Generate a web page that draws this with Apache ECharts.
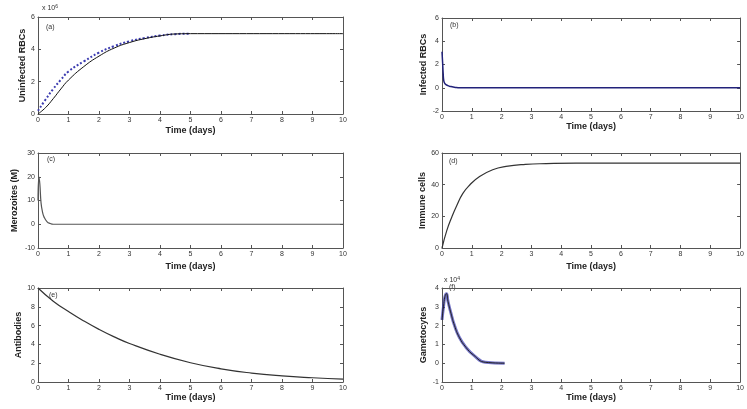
<!DOCTYPE html>
<html><head><meta charset="utf-8">
<script src="https://cdn.jsdelivr.net/npm/echarts@6/dist/echarts.min.js"></script>
<style>html,body{margin:0;padding:0;background:#fff}#c{width:747px;height:409px}</style>
</head><body><div id="c"></div>
<script>
// ---- data ----
const xTickLabels = ['0','1','2','3','4','5','6','7','8','9','10'];
// (a) Uninfected RBCs (x10^6)
const tUninfBlack = [0, 0.25, 0.5, 0.75, 1, 1.5, 2, 2.5, 3, 3.5, 4, 4.5, 5, 10];
const uninfBlack  = [0, 0.4, 0.95, 1.55, 2.1, 2.93, 3.58, 4.08, 4.42, 4.66, 4.83, 4.95, 4.97, 4.97];
const tUninfBlue  = [0, 0.25, 0.5, 0.75, 1, 1.5, 2, 2.5, 3, 3.5, 4, 4.5, 5];
const uninfBlue   = [0.2, 0.9, 1.55, 2.12, 2.63, 3.25, 3.8, 4.2, 4.5, 4.7, 4.85, 4.94, 4.97];
// (b) Infected RBCs
const tInf = [0, 0.02, 0.04, 0.06, 0.1, 0.2, 0.3, 0.45, 0.6, 10];
const infected = [3.1, 2.2, 1.2, 0.6, 0.35, 0.18, 0.1, 0.03, 0, 0];
// (c) Merozoites
const tMero = [0, 0.03, 0.06, 0.1, 0.15, 0.2, 0.3, 0.4, 0.5, 10];
const merozoites = [10, 20, 17, 9, 5, 3, 1, 0.3, 0, 0];
// (d) Immune cells
const tImm = [0, 0.16, 0.33, 0.5, 0.7, 0.93, 1.25, 1.7, 2.15, 2.8, 3.5, 4.5, 10];
const immune = [0, 11, 19.6, 27, 34.5, 39.8, 45, 49.4, 51.5, 52.8, 53.3, 53.6, 53.6];
// (e) Antibodies
const tAb = [0, 0.5, 1, 1.5, 2, 2.5, 3, 4, 5, 6, 7, 8, 9, 10];
const antibodies = [10, 8.6, 7.5, 6.5, 5.6, 4.8, 4.1, 2.95, 2.05, 1.4, 0.95, 0.65, 0.45, 0.3];
// (f) Gametocytes (x10^4)
const tGam = [0, 0.05, 0.1, 0.15, 0.2, 0.3, 0.42, 0.58, 0.8, 1.06, 1.45, 2.1];
const gametocytes = [2.3, 3.0, 3.55, 3.7, 3.3, 2.66, 2.0, 1.38, 0.85, 0.43, 0.05, 0];

const panelLabels = ['(a)','(b)','(c)','(d)','(e)','(f)'];
const yNames = ['Uninfected RBCs','Infected RBCs','Merozoites (M)','Immune cells','Antibodies','Gametocytes'];
const yMins = [0, -2, -10, 0, 0, -1];
const yMaxs = [6, 6, 30, 60, 10, 4];
const yIntervals = [2, 2, 10, 20, 2, 1];
const xName = 'Time (days)';

function pairs(t, v){ return t.map((x,i)=>[x, v[i]]); }

// ---- layout ----
const grids = [
  {left:38, right:404, top:17, bottom:295},
  {left:442, right:2, top:18, bottom:298},
  {left:38, right:404, top:153, bottom:161},
  {left:442, right:2, top:153, bottom:161},
  {left:38, right:404, top:288, bottom:27},
  {left:442, right:2, top:288, bottom:27}
];
const xGaps = [12, 8, 14, 14, 11, 10];
const yGaps = [11, 14, 19, 14, 15, 14];
const font = 'Liberation Sans, Arial, sans-serif';
const lineCol = '#555';

const xAxes = [], yAxes = [];
grids.forEach((g, i) => {
  xAxes.push({
    gridIndex: i, type: 'value', min: 0, max: 10, interval: 1, position: 'bottom',
    name: xName, nameLocation: 'middle', nameGap: xGaps[i],
    nameTextStyle: {fontSize: 9, fontWeight: 'bold', color: '#222', fontFamily: font},
    axisLine: {show: true, onZero: false, lineStyle: {color: lineCol}},
    axisTick: {inside: true, length: 3, lineStyle: {color: lineCol}},
    axisLabel: {fontSize: 7, color: '#333', margin: 3, fontFamily: font,
      formatter: v => xTickLabels[Math.round(v)] || ''},
    splitLine: {show: false}
  });
  xAxes.push({
    gridIndex: i, type: 'value', min: 0, max: 10, interval: 1, position: 'top',
    axisLine: {show: true, onZero: false, lineStyle: {color: lineCol}},
    axisTick: {inside: true, length: 3, lineStyle: {color: lineCol}},
    axisLabel: {show: false}, splitLine: {show: false}
  });
  yAxes.push({
    gridIndex: i, type: 'value', min: yMins[i], max: yMaxs[i], interval: yIntervals[i], position: 'left',
    name: yNames[i], nameLocation: 'middle', nameGap: yGaps[i], nameRotate: 90,
    nameTextStyle: {fontSize: 9, fontWeight: 'bold', color: '#222', fontFamily: font},
    axisLine: {show: true, onZero: false, lineStyle: {color: lineCol}},
    axisTick: {inside: true, length: 3, lineStyle: {color: lineCol}},
    axisLabel: {fontSize: 7, color: '#333', margin: 3, fontFamily: font},
    splitLine: {show: false}
  });
  yAxes.push({
    gridIndex: i, type: 'value', min: yMins[i], max: yMaxs[i], interval: yIntervals[i], position: 'right',
    axisLine: {show: true, onZero: false, lineStyle: {color: lineCol}},
    axisTick: {inside: true, length: 3, lineStyle: {color: lineCol}},
    axisLabel: {show: false}, splitLine: {show: false}
  });
});

function line(i, data, color, extra){
  return Object.assign({
    type: 'line', xAxisIndex: 2*i, yAxisIndex: 2*i, data: data,
    showSymbol: false, smooth: 0.5, silent: true, animation: false,
    lineStyle: {color: color, width: 1}
  }, extra || {});
}
const blue = '#3b3bb0';
const series = [
  line(0, pairs(tUninfBlue, uninfBlue), blue, {lineStyle: {color: blue, width: 2, type: 'dotted'}}),
  line(0, pairs(tUninfBlack, uninfBlack), '#111'),
  line(1, pairs(tInf, infected), '#22227a', {lineStyle: {color: '#22227a', width: 1.5}}),
  line(2, pairs(tMero, merozoites), '#444', {lineStyle: {color: '#555', width: 1.2}}),
  line(3, pairs(tImm, immune), '#222', {lineStyle: {color: '#333', width: 1.2}}),
  line(4, pairs(tAb, antibodies), '#222', {lineStyle: {color: '#333', width: 1.2}}),
  line(5, pairs(tGam, gametocytes), blue, {lineStyle: {color: blue, width: 3, opacity: 0.7}}),
  line(5, pairs(tGam, gametocytes), '#222', {lineStyle: {color: '#222', width: 1}})
];

const labelPos = [[46,24],[450,22],[47,156],[449,158],[49,292],[449,284]];
const graphics = panelLabels.map((t, i) => ({
  type: 'text', left: labelPos[i][0], top: labelPos[i][1],
  style: {text: t, fontSize: 7, fill: '#333', fontFamily: font}
}));
graphics.push({type: 'text', left: 42, top: 4,
  style: {text: '{a|x 10}{b|6}', fontFamily: font, rich: {a: {fontSize: 7, fill: '#333'}, b: {fontSize: 5, fill: '#333', verticalAlign: 'top', padding: [0,0,4,0]}}}});
graphics.push({type: 'text', left: 444, top: 276,
  style: {text: '{a|x 10}{b|4}', fontFamily: font, rich: {a: {fontSize: 7, fill: '#333'}, b: {fontSize: 5, fill: '#333', verticalAlign: 'top', padding: [0,0,4,0]}}}});

const chart = echarts.init(document.getElementById('c'), null, {renderer: 'canvas'});
chart.setOption({
  animation: false,
  backgroundColor: '#fff',
  grid: grids.map(g => Object.assign({show: false, containLabel: false}, g)),
  xAxis: xAxes, yAxis: yAxes, series: series, graphic: graphics
});
</script></body></html>
